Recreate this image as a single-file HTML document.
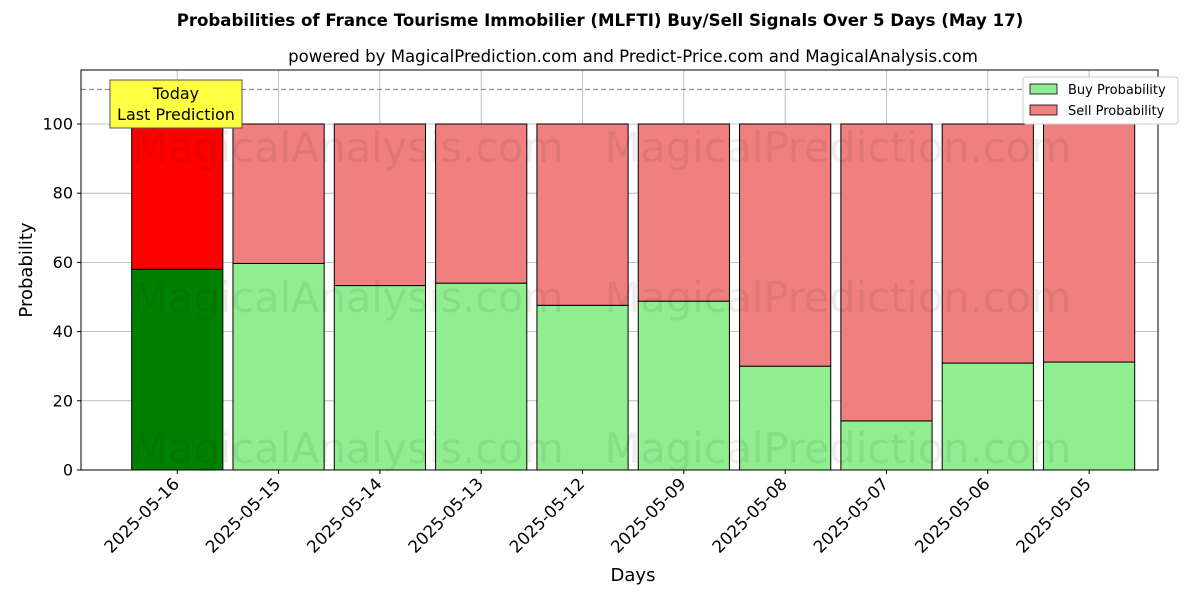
<!DOCTYPE html>
<html><head><meta charset="utf-8"><style>
body{margin:0;background:#fff;font-family:"Liberation Sans","DejaVu Sans",sans-serif;}
</style></head><body>
<svg width="1200" height="600" xmlns="http://www.w3.org/2000/svg" font-family="DejaVu Sans, Liberation Sans, sans-serif">
<text x="600" y="26" text-anchor="middle" font-size="16.6" font-weight="bold">Probabilities of France Tourisme Immobilier (MLFTI) Buy/Sell Signals Over 5 Days (May 17)</text>
<text x="633" y="62" text-anchor="middle" font-size="16.6">powered by MagicalPrediction.com and Predict-Price.com and MagicalAnalysis.com</text>
<g id="grid"></g>
<g id="bars"></g>
<g id="wm" font-size="41.5" fill="#000" fill-opacity="0.07" text-anchor="middle">
<text x="348" y="162">MagicalAnalysis.com</text>
<text x="838" y="162">MagicalPrediction.com</text>
<text x="348" y="312">MagicalAnalysis.com</text>
<text x="838" y="312">MagicalPrediction.com</text>
<text x="348" y="463">MagicalAnalysis.com</text>
<text x="838" y="463">MagicalPrediction.com</text>
</g>
<g id="axes"></g>
<rect x="81" y="70" width="1077" height="400" fill="none" stroke="#000" stroke-width="1"/>
<g>
<rect x="110" y="80" width="132" height="48" fill="#ffff44" stroke="#555" stroke-width="1"/>
<text x="176" y="99" text-anchor="middle" font-size="16">Today</text>
<text x="176" y="120" text-anchor="middle" font-size="16">Last Prediction</text>
</g>
<g>
<rect x="1023" y="77" width="155" height="47" fill="#fff" stroke="#ccc" rx="3"/>
<rect x="1030" y="84" width="27" height="10" fill="#90ee90" stroke="#000" stroke-width="0.8"/>
<text x="1068" y="94" font-size="13">Buy Probability</text>
<rect x="1030" y="105" width="27" height="10" fill="#f08080" stroke="#000" stroke-width="0.8"/>
<text x="1068" y="115" font-size="13">Sell Probability</text>
</g>
<text x="633" y="581" text-anchor="middle" font-size="18">Days</text>
<text transform="translate(32,270) rotate(-90)" text-anchor="middle" font-size="18">Probability</text>
</svg>
<script>
const categories=["2025-05-16","2025-05-15","2025-05-14","2025-05-13","2025-05-12","2025-05-09","2025-05-08","2025-05-07","2025-05-06","2025-05-05"];
const buyValues=[58,59.7,53.3,54,47.6,48.8,30,14.2,30.9,31.2];
const yTicks=[0,20,40,60,80,100];
const NS="http://www.w3.org/2000/svg";
const X0=81,X1=1158,Y0=470,Y1=70,xmin=-0.95,xmax=9.68,ymax=115.6;
const xs=i=>X0+(i-xmin)/(xmax-xmin)*(X1-X0);
const ys=v=>Y0-v/ymax*(Y0-Y1);
const bw=0.9*(X1-X0)/(xmax-xmin);
function mk(t,a,p){const e=document.createElementNS(NS,t);for(const k in a)e.setAttribute(k,a[k]);p.appendChild(e);return e;}
const grid=document.getElementById('grid'),bars=document.getElementById('bars'),axes=document.getElementById('axes');
yTicks.forEach(v=>{const y=ys(v);
const l=mk('line',{x1:X0,x2:X1,y1:y,y2:y,stroke:'#b0b0b0','stroke-width':0.8},grid);

mk('line',{x1:X0-4,x2:X0,y1:y,y2:y,stroke:'#000'},axes);
const t=mk('text',{x:X0-8,y:y+5.5,'text-anchor':'end','font-size':16},axes);t.textContent=v;
});
categories.forEach((c,i)=>{const x=xs(i);
const g=mk('line',{x1:x,x2:x,y1:Y1,y2:Y0,stroke:'#b0b0b0','stroke-width':0.8},grid);

const b=buyValues[i];const today=i===0;
const r1=mk('rect',{x:x-bw/2,y:ys(b),width:bw,height:ys(0)-ys(b),fill:today?'#008000':'#90ee90',stroke:'#000','stroke-width':1},bars);

const r2=mk('rect',{x:x-bw/2,y:ys(100),width:bw,height:ys(b)-ys(100),fill:today?'#ff0000':'#f08080',stroke:'#000','stroke-width':1},bars);

mk('line',{x1:x,x2:x,y1:Y0,y2:Y0+4,stroke:'#000'},axes);
const t=mk('text',{transform:`translate(${x+3},${Y0+15}) rotate(-45)`,'text-anchor':'end','font-size':16.8},axes);t.textContent=c;
});
const d=mk('line',{x1:X0,x2:X1,y1:ys(110),y2:ys(110),stroke:'#777','stroke-dasharray':'5,3','stroke-width':1},bars);

</script>
</body></html>
